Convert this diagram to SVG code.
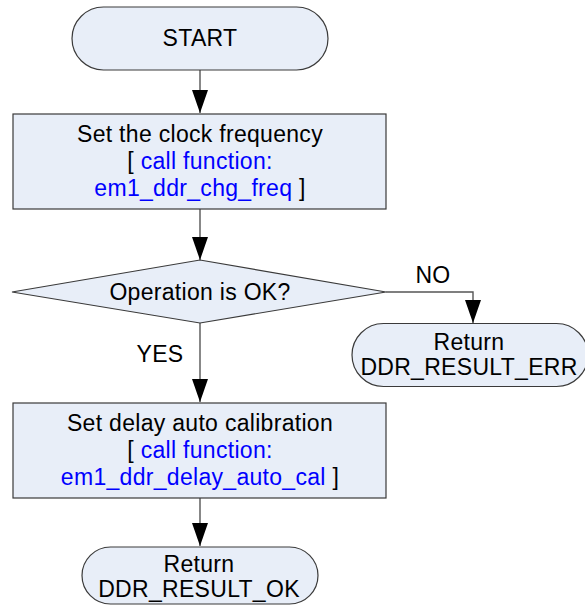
<svg xmlns="http://www.w3.org/2000/svg" width="585" height="605" viewBox="0 0 585 605">
  <style>
    .shape { fill: #e8eef8; stroke: #3a3a3a; stroke-width: 1.2; }
    .conn { fill: none; stroke: #555555; stroke-width: 1.4; }
    text { font-family: "Liberation Sans", Arial, sans-serif; font-size: 23px; letter-spacing: 0.3px; fill: #000000; text-anchor: middle; }
    .blue { fill: #0000ff; }
  </style>
  <defs>
    <marker id="arrowDown" markerUnits="userSpaceOnUse" markerWidth="18" markerHeight="24" viewBox="0 0 18 24" refX="9" refY="23" orient="0">
      <path d="M1,0 L17,0 L9,23 Z" fill="#000000"/>
    </marker>
  </defs>

  <g id="connectors">
    <line class="conn" x1="200" y1="70" x2="200" y2="113" marker-end="url(#arrowDown)"/>
    <line class="conn" x1="200" y1="209" x2="200" y2="260" marker-end="url(#arrowDown)"/>
    <line class="conn" x1="200" y1="323" x2="200" y2="402" marker-end="url(#arrowDown)"/>
    <path class="conn" d="M386,292 H473 V323" marker-end="url(#arrowDown)"/>
    <line class="conn" x1="200" y1="498" x2="200" y2="546" marker-end="url(#arrowDown)"/>
    <text x="433" y="283">NO</text>
    <text x="160" y="362">YES</text>
  </g>

  <g id="start">
    <rect class="shape" x="72" y="7" width="256" height="63" rx="31.5" ry="31.5"/>
    <text x="200" y="46">START</text>
  </g>

  <g id="set-clock">
    <rect class="shape" x="13" y="114" width="373" height="95"/>
    <text x="200" y="142">Set the clock frequency</text>
    <text x="200" y="169">[ <tspan class="blue">call function:</tspan></text>
    <text x="200" y="196"><tspan class="blue">em1_ddr_chg_freq</tspan> ]</text>
  </g>

  <g id="decision">
    <polygon class="shape" points="12,292 200,260 386,292 200,323"/>
    <text x="200" y="300">Operation is OK?</text>
  </g>

  <g id="return-err">
    <rect class="shape" x="352" y="323.5" width="236" height="63" rx="31.5" ry="31.5"/>
    <text x="469" y="350">Return</text>
    <text x="469" y="375">DDR_RESULT_ERR</text>
  </g>

  <g id="set-delay">
    <rect class="shape" x="13" y="403" width="373" height="95"/>
    <text x="200" y="431">Set delay auto calibration</text>
    <text x="200" y="458">[ <tspan class="blue">call function:</tspan></text>
    <text x="200" y="485"><tspan class="blue">em1_ddr_delay_auto_cal</tspan> ]</text>
  </g>

  <g id="return-ok">
    <rect class="shape" x="82" y="547" width="236" height="57" rx="28.5" ry="28.5"/>
    <text x="199" y="572">Return</text>
    <text x="199" y="597">DDR_RESULT_OK</text>
  </g>
</svg>
